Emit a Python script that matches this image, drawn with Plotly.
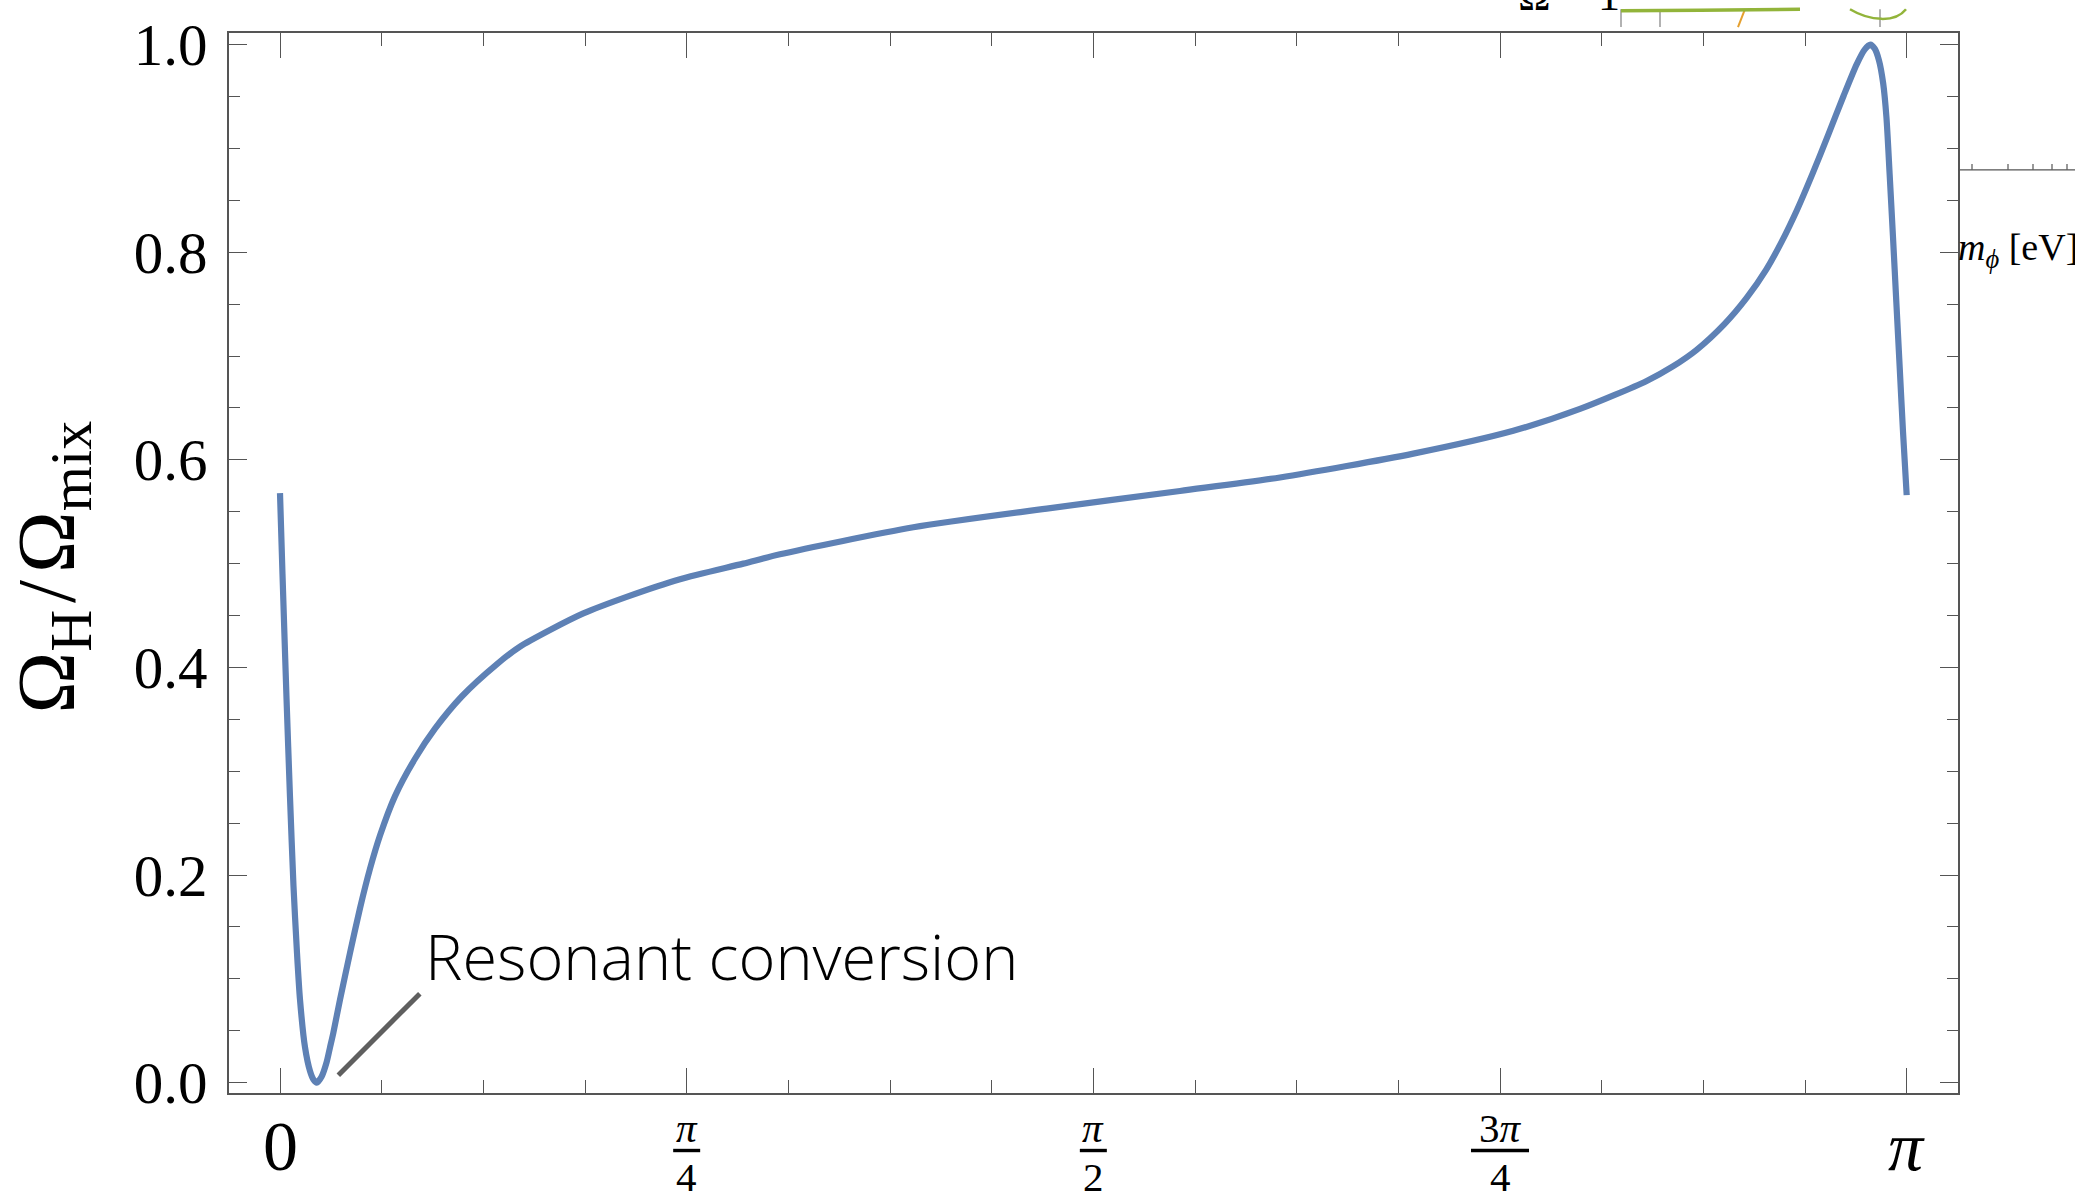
import math
import plotly.graph_objects as go

# Mixing angle theta (rad) and the abundance ratio Omega_H / Omega_mix
theta = [0.0, 0.0048, 0.0126, 0.0193, 0.026, 0.0328, 0.0386, 0.0483, 0.058, 0.0645,
         0.0709, 0.0805, 0.0902, 0.0966, 0.103, 0.1159, 0.1352, 0.1545, 0.1738, 0.1931,
         0.2221, 0.2607, 0.2993, 0.3509, 0.4185, 0.4635, 0.5214, 0.5858, 0.6695, 0.7725,
         0.8948, 0.9656, 1.2231, 1.4807, 1.7381, 1.9313, 2.1887, 2.3818, 2.5106, 2.6394,
         2.69, 2.736, 2.79, 2.8325, 2.87, 2.9, 2.93, 2.96, 2.99, 3.02,
         3.045, 3.06, 3.0715, 3.08, 3.088, 3.0961, 3.1025, 3.1087, 3.1151, 3.1216,
         3.128, 3.1345, 3.1416]
ratio = [0.568, 0.49, 0.37, 0.275, 0.19, 0.125, 0.08, 0.034, 0.011, 0.003,
         0.0, 0.006, 0.02, 0.034, 0.048, 0.08, 0.125, 0.168, 0.206, 0.238,
         0.276, 0.312, 0.341, 0.372, 0.403, 0.42, 0.436, 0.452, 0.468, 0.485,
         0.5, 0.509, 0.535, 0.553, 0.57, 0.583, 0.606, 0.628, 0.649, 0.676,
         0.69, 0.706, 0.731, 0.756, 0.783, 0.81, 0.841, 0.876, 0.913, 0.951,
         0.981, 0.995, 1.0, 0.996, 0.985, 0.963, 0.93, 0.875, 0.815, 0.752,
         0.69, 0.627, 0.566]

x_tick_vals = [0, math.pi / 4, math.pi / 2, 3 * math.pi / 4, math.pi]
x_tick_num = ["0", "<i>π</i>", "<i>π</i>", "3<i>π</i>", "<i>π</i>"]
x_tick_den = [None, "4", "2", "4", None]
y_tick_vals = [0.0, 0.2, 0.4, 0.6, 0.8, 1.0]
y_tick_text = ["0.0", "0.2", "0.4", "0.6", "0.8", "1.0"]

label_text = "Resonant conversion"
y_title = "Ω<sub>H</sub>\u200a/\u200aΩ<sub>mix</sub>"

W, H = 2075, 1197
L, R, T, B = 229, 1958, 24, 1093          # frame edges in pixels
X_RANGE = [-0.0985, 3.2407]
Y_RANGE = [-0.010, 1.0112]
SERIF = "Liberation Serif"
FRAME = "#555555"


def paper(px, py):
    """Pixel position -> paper coordinates."""
    return (px - L) / (R - L), (B - py) / (B - T)


def xdata_per_px():
    return (X_RANGE[1] - X_RANGE[0]) / (R - L)


fig = go.Figure()
fig.add_trace(go.Scatter(
    x=theta, y=ratio, mode="lines",
    line=dict(color="#5E81B5", width=6.2, shape="spline", smoothing=0.7),
    hoverinfo="skip", showlegend=False,
))

annotations = []
shapes = []

# x tick labels: plain numbers and stacked fractions
for xv, num, den in zip(x_tick_vals, x_tick_num, x_tick_den):
    if den is None:
        annotations.append(dict(
            x=xv, xref="x", y=paper(0, 1147)[1], yref="paper",
            text=num, showarrow=False, xanchor="center", yanchor="middle",
            font=dict(family=SERIF, size=70, color="black")))
    else:
        annotations.append(dict(
            x=xv, xref="x", y=paper(0, 1128)[1], yref="paper",
            text=num, showarrow=False, xanchor="center", yanchor="middle",
            font=dict(family=SERIF, size=41, color="black")))
        annotations.append(dict(
            x=xv, xref="x", y=paper(0, 1178)[1], yref="paper",
            text=den, showarrow=False, xanchor="center", yanchor="middle",
            font=dict(family=SERIF, size=41, color="black")))
        half = (29 if num.startswith("3") else 13.5) * xdata_per_px()
        yb = paper(0, 1151)[1]
        shapes.append(dict(type="line", xref="x", yref="paper",
                           x0=xv - half, x1=xv + half, y0=yb, y1=yb,
                           line=dict(color="black", width=3.4)))

# y axis title
tx, ty = paper(52, 563)
annotations.append(dict(
    x=tx, y=ty, xref="paper", yref="paper", text=y_title, textangle=-90,
    showarrow=False, xanchor="center", yanchor="middle",
    font=dict(family=SERIF, size=83, color="black")))

# label and pointer at the resonance dip
annotations.append(dict(
    x=0.277, xref="x", y=0.1228, yref="y", text=label_text, showarrow=False,
    xanchor="left", yanchor="middle",
    font=dict(family="Open Sans", size=63, color="black", weight=300)))
annotations.append(dict(
    x=0.1126, xref="x", y=0.0072, yref="y", text="", showarrow=True,
    arrowhead=0, arrowwidth=5, arrowcolor="#5f5f5f", ax=83, ay=-83,
    standoff=0, startstandoff=0))

# neighbouring panel fragments at the top-right edge
x0, y0 = paper(1958, 162)
x1, _ = paper(2075, 162)
shapes.append(dict(type="line", xref="paper", yref="paper", x0=x0, x1=x1, y0=y0, y1=y0,
                   line=dict(color=FRAME, width=1.3)))
for tpx in [1972, 2008, 2033, 2052, 2067]:
    a, b0 = paper(tpx, 162)
    _, b1 = paper(tpx, 156)
    shapes.append(dict(type="line", xref="paper", yref="paper", x0=a, x1=a, y0=b0, y1=b1,
                       line=dict(color=FRAME, width=1.2)))
mx, my = paper(1956, 243)
annotations.append(dict(
    x=mx, y=my, xref="paper", yref="paper", showarrow=False,
    text="<i>m</i><sub><i>ϕ</i></sub> [eV]", xanchor="left", yanchor="middle",
    font=dict(family=SERIF, size=38, color="black")))
for gpx in [1621, 1660, 1880]:
    a, b0 = paper(gpx, 0)
    _, b1 = paper(gpx, 18)
    shapes.append(dict(type="line", xref="paper", yref="paper", x0=a, x1=a, y0=b0, y1=b1,
                       line=dict(color="#999999", width=1.5)))
a0, b0 = paper(1745, 0)
a1, b1 = paper(1738, 18)
shapes.append(dict(type="line", xref="paper", yref="paper", x0=a0, x1=a1, y0=b0, y1=b1,
                   line=dict(color="#E5A02E", width=2)))
p = [paper(*q) for q in [(1621, 1.5), (1700, 1), (1800, 0)]]
shapes.append(dict(type="path", xref="paper", yref="paper",
                   path=f"M{p[0][0]},{p[0][1]} L{p[1][0]},{p[1][1]} L{p[2][0]},{p[2][1]}",
                   line=dict(color="#92B43A", width=3.5)))
q = [paper(*v) for v in [(1850, 0), (1870, 12), (1895, 14), (1906, 0)]]
shapes.append(dict(type="path", xref="paper", yref="paper",
                   path=f"M{q[0][0]},{q[0][1]} C{q[1][0]},{q[1][1]} {q[2][0]},{q[2][1]} {q[3][0]},{q[3][1]}",
                   line=dict(color="#92B43A", width=2.5)))
ox, oy = paper(1534, -14)
annotations.append(dict(x=ox, y=oy, xref="paper", yref="paper", text="Ω", showarrow=False,
                        xanchor="center", yanchor="middle",
                        font=dict(family=SERIF, size=44, color="black")))
ox, oy = paper(1609, -14)
annotations.append(dict(x=ox, y=oy, xref="paper", yref="paper", text="1", showarrow=False,
                        xanchor="center", yanchor="middle",
                        font=dict(family=SERIF, size=44, color="black")))

axis_common = dict(
    showline=True, linecolor=FRAME, linewidth=1.5, mirror="ticks",
    ticks="inside", tickcolor=FRAME, tickwidth=1.3,
    showgrid=False, zeroline=False,
)

fig.update_layout(
    width=W, height=H, autosize=False,
    margin=dict(l=L, r=W - R, t=T, b=H - B, pad=0),
    paper_bgcolor="white", plot_bgcolor="white",
    xaxis=dict(range=X_RANGE, tickmode="array", tickvals=x_tick_vals,
               showticklabels=False, ticklen=25,
               minor=dict(tickmode="linear", tick0=0, dtick=math.pi / 16,
                          ticks="inside", ticklen=13, tickcolor=FRAME, tickwidth=1.2,
                          showgrid=False),
               **axis_common),
    yaxis=dict(range=Y_RANGE, tickmode="array", tickvals=y_tick_vals, ticktext=y_tick_text,
               tickfont=dict(family=SERIF, size=59, color="black"), ticklen=18,
               ticklabelstandoff=8,
               minor=dict(tickmode="linear", tick0=0, dtick=0.05,
                          ticks="inside", ticklen=11, tickcolor=FRAME, tickwidth=1.2,
                          showgrid=False),
               **axis_common),
    annotations=annotations,
    shapes=shapes,
    showlegend=False,
)

fig.write_html("out.html")
